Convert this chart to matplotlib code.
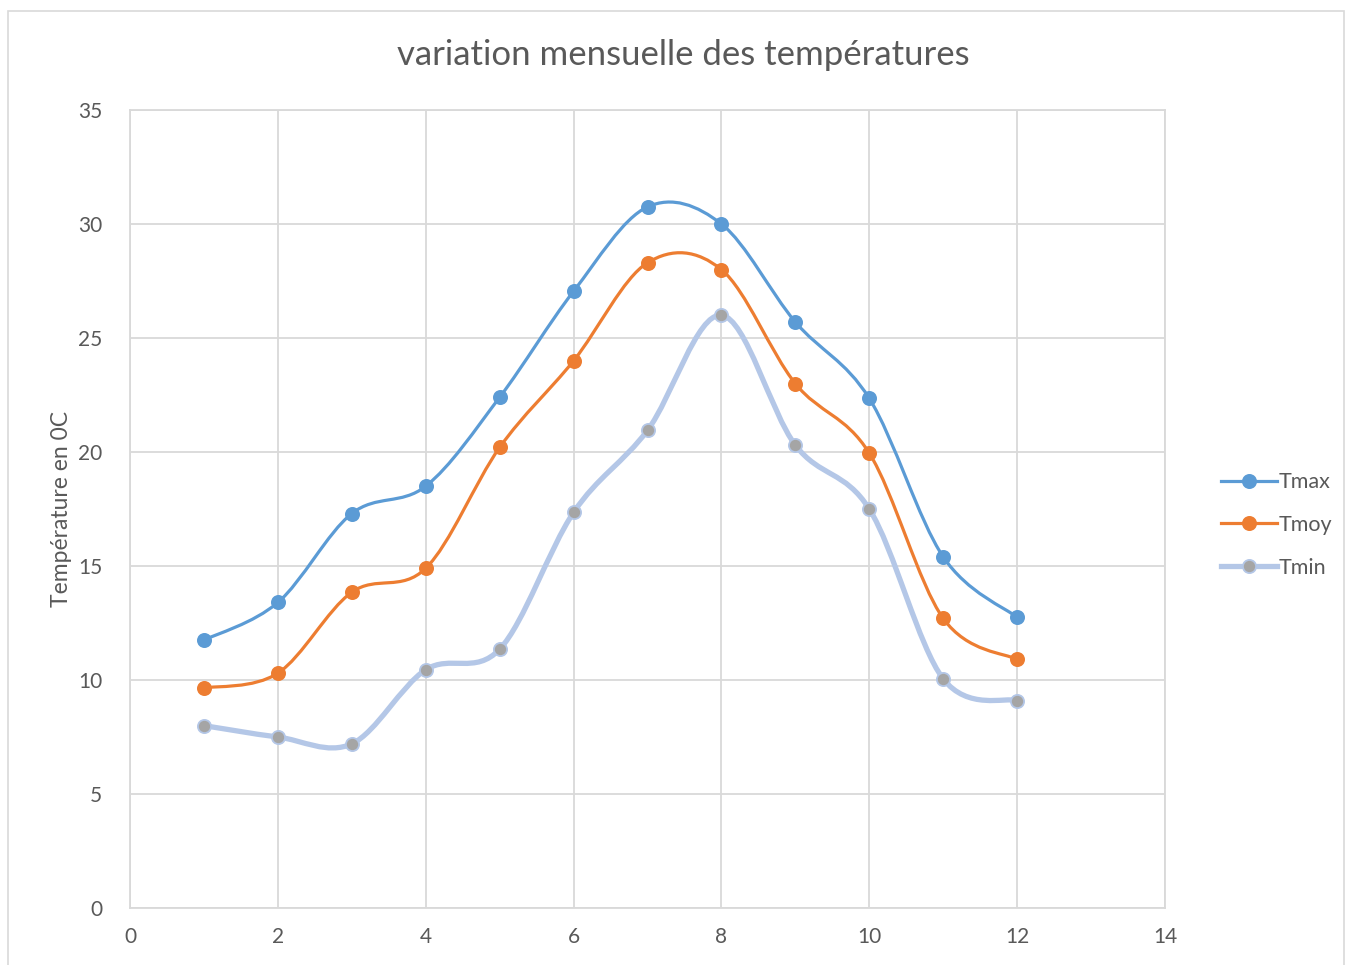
import numpy as np
import matplotlib
matplotlib.use('Agg')
import matplotlib.pyplot as plt
from matplotlib.path import Path
from matplotlib.patches import PathPatch, Rectangle

plt.rcParams['font.family'] = ['Lato', 'DejaVu Sans']

# ── data ───────────────────────────────────────────────────────────────────────
months = [1, 2, 3, 4, 5, 6, 7, 8, 9, 10, 11, 12]
tmax = [11.75, 13.4, 17.3, 18.5, 22.4, 27.05, 30.75, 30.0, 25.7, 22.35, 15.4, 12.75]
tmoy = [9.65, 10.3, 13.85, 14.9, 20.2, 24.0, 28.3, 28.0, 23.0, 19.95, 12.7, 10.9]
tmin = [8.0, 7.5, 7.2, 10.45, 11.35, 17.35, 20.95, 26.0, 20.3, 17.5, 10.05, 9.1]

SERIES = [
    ('Tmax', tmax, '#5b9bd5', '#5b9bd5', '#5b9bd5', 2.3),
    ('Tmoy', tmoy, '#ed7d31', '#ed7d31', '#ed7d31', 2.3),
    ('Tmin', tmin, '#b4c7e7', '#a5a5a5', '#b4c7e7', 3.8),
]
GREY = '#595959'
GRID = '#d9d9d9'


def smooth_path(x, y):
    """Excel-like smoothed line: cubic Bezier segments (Catmull-Rom tangents)."""
    pts = np.column_stack([x, y]).astype(float)
    n = len(pts)
    verts = [pts[0]]
    codes = [Path.MOVETO]
    for i in range(n - 1):
        p0 = pts[max(i - 1, 0)]
        p1 = pts[i]
        p2 = pts[i + 1]
        p3 = pts[min(i + 2, n - 1)]
        c1 = p1 + (p2 - p0) / 6.0
        c2 = p2 - (p3 - p1) / 6.0
        verts += [c1, c2, p2]
        codes += [Path.CURVE4] * 3
    return Path(verts, codes)


fig = plt.figure(figsize=(13.48, 9.65), dpi=100)
# outer chart frame
fig.patches.append(Rectangle((8 / 1348, -0.01), 1336 / 1348, 1 - 11 / 965 + 0.01,
                             transform=fig.transFigure, fill=False,
                             edgecolor='#d9d9d9', linewidth=1.2))

ax = fig.add_axes([130 / 1348, 1 - 908 / 965, 1035 / 1348, 798 / 965])

for label, vals, lc, mfc, mec, lw in SERIES:
    ax.add_patch(PathPatch(smooth_path(months, vals), facecolor='none',
                           edgecolor=lc, linewidth=lw, capstyle='round',
                           joinstyle='round', zorder=3))
    ax.plot(months, vals, linestyle='none', marker='o', markersize=9.5,
            markerfacecolor=mfc, markeredgecolor=mec, markeredgewidth=1.3,
            zorder=4)
    # legend proxy
    ax.plot([], [], color=lc, linewidth=lw, marker='o', markersize=9.5,
            markerfacecolor=mfc, markeredgecolor=mec, markeredgewidth=1.3,
            label=label)

ax.set_xlim(0, 14)
ax.set_ylim(0, 35)
ax.set_xticks(range(0, 15, 2))
ax.set_yticks(range(0, 36, 5))
ax.grid(True, color=GRID, linewidth=1.3)
ax.set_axisbelow(True)
for sp in ax.spines.values():
    sp.set_color(GRID)
    sp.set_linewidth(1.3)
ax.tick_params(length=0, colors=GREY, labelsize=15, pad=14)
ax.tick_params(axis='y', pad=20)

fig.text(683 / 1348, 1 - 55 / 965, 'variation mensuelle des températures',
         fontsize=25, color=GREY, ha='center', va='center')
ax.set_ylabel('Température en 0C', fontsize=16.5, color=GREY, labelpad=4)

leg = ax.legend(loc='center left', bbox_to_anchor=(1.035, 0.48), frameon=False,
                fontsize=15.5, handlelength=2.6, handletextpad=0.1,
                labelspacing=1.05)
for t in leg.get_texts():
    t.set_color(GREY)

fig.savefig('out.png', dpi=100)
